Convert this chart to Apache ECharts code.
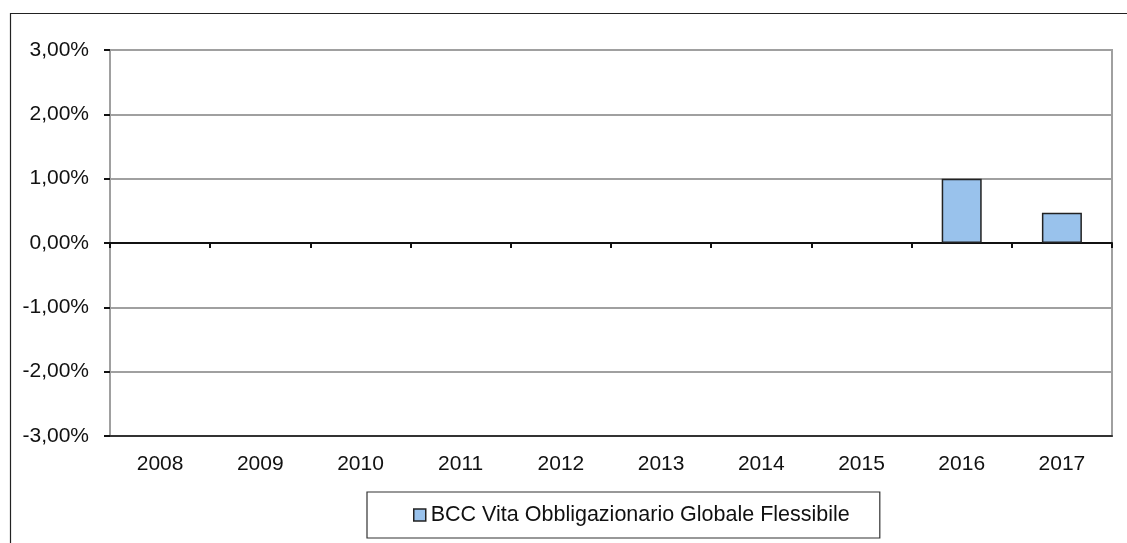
<!DOCTYPE html>
<html><head><meta charset="utf-8">
<script src="https://cdn.jsdelivr.net/npm/echarts@6/dist/echarts.min.js"></script>
<style>html,body{margin:0;padding:0;background:#fff;}#c{width:1127px;height:543px;}</style>
</head><body><div id="c"></div>
<script>
const categories = ['2008','2009','2010','2011','2012','2013','2014','2015','2016','2017'];
const seriesName = 'BCC Vita Obbligazionario Globale Flessibile';
const values = [null,null,null,null,null,null,null,null,1.00,0.47];
const yMin = -3, yMax = 3, yStep = 1;

const chart = echarts.init(document.getElementById('c'), null, {renderer:'canvas'});
const fmt = v => v.toFixed(2).replace('.', ',') + '%';
const font = 'Liberation Sans, Arial, sans-serif';
chart.setOption({
  animation:false,
  backgroundColor:'#fff',
  graphic:[{type:'rect', shape:{x:10.5,y:13.5,width:1200,height:600}, style:{fill:null, stroke:'#222', lineWidth:1.2}, z:-1}],
  grid:{left:110, right:15, top:50, bottom:107, show:true, borderColor:'#a0a0a0', borderWidth:2, backgroundColor:'transparent'},
  legend:{
    left:367, top:492, data:[seriesName], icon:'rect', itemWidth:12, itemHeight:12, itemGap:5,
    padding:[12,30,12,46], borderColor:'#333', borderWidth:1.2,
    textStyle:{fontFamily:font, fontSize:21.5, color:'#111'},
    itemStyle:{borderColor:'#222', borderWidth:1.5}
  },
  xAxis:[
    {type:'category', data:categories, position:'bottom',
     axisLine:{onZero:true, lineStyle:{color:'#111', width:2}},
     axisTick:{show:true, alignWithLabel:false, length:5, lineStyle:{color:'#111', width:2}},
     axisLabel:{show:false}, splitLine:{show:false}},
    {type:'category', data:categories, position:'bottom', gridIndex:0,
     axisLine:{onZero:false, show:true, lineStyle:{color:'#333', width:2}},
     axisTick:{show:false},
     axisLabel:{show:true, margin:18, fontFamily:font, fontSize:21, color:'#111'}, splitLine:{show:false}}
  ],
  yAxis:{type:'value', min:yMin, max:yMax, interval:yStep,
    axisLine:{show:true, lineStyle:{color:'#a0a0a0', width:2}},
    axisTick:{show:true, length:6, lineStyle:{color:'#111', width:2}},
    axisLabel:{margin:21, formatter:fmt, fontFamily:font, fontSize:21, color:'#111'},
    splitLine:{show:true, lineStyle:{color:'#a0a0a0', width:2}}},
  series:[{name:seriesName, type:'bar', xAxisIndex:0, data:values, barWidth:40,
    itemStyle:{color:'#99c2ec', borderColor:'#222', borderWidth:1.5}}]
});
</script></body></html>
